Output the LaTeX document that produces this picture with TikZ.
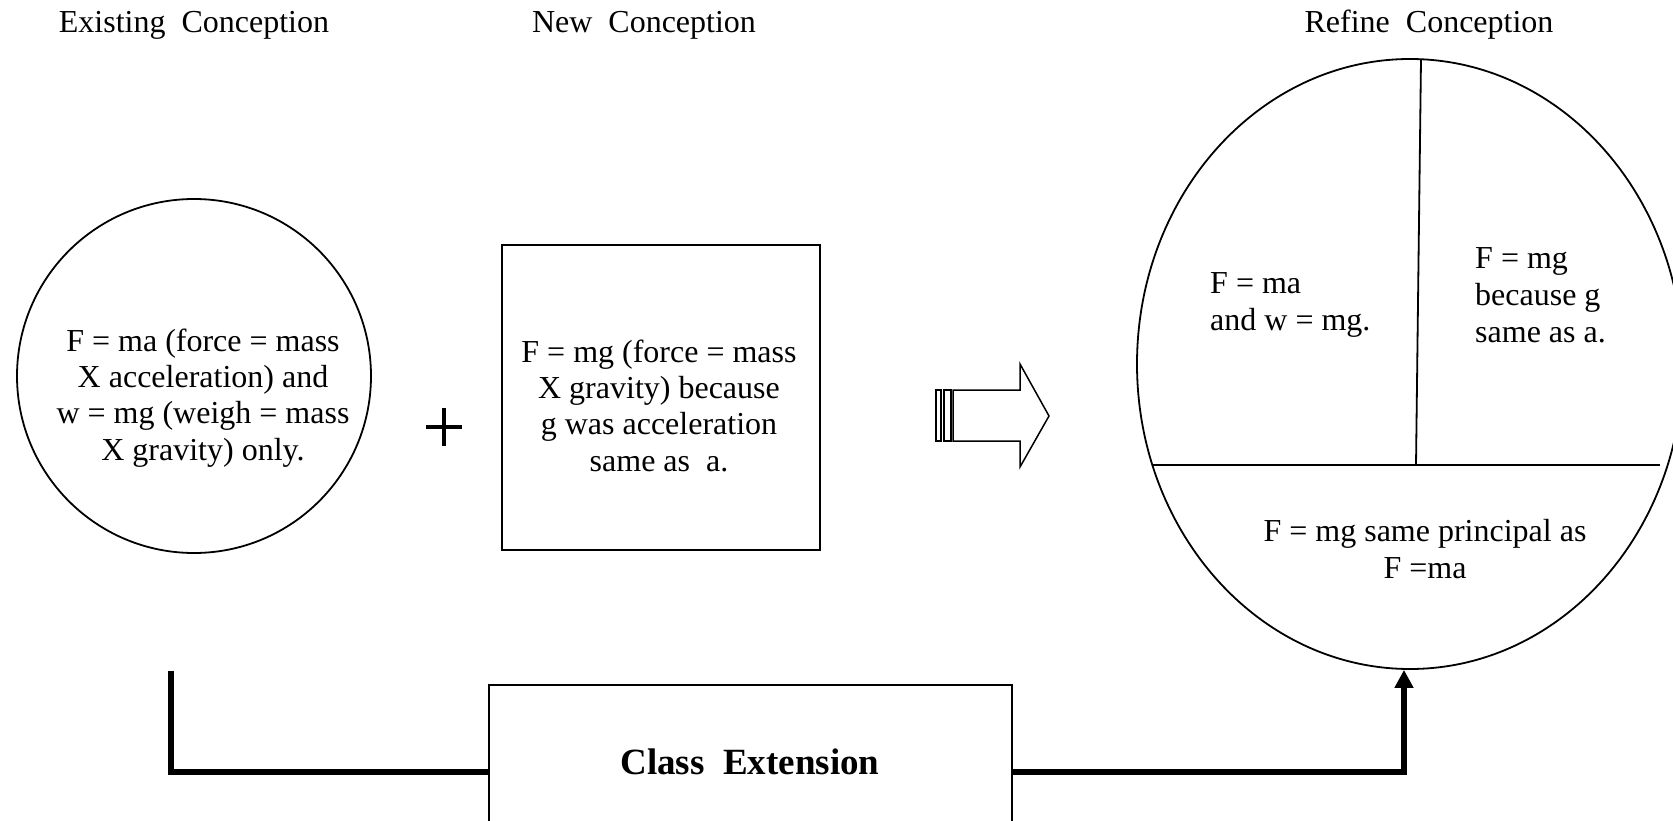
\documentclass[tikz,border=0pt]{standalone}
\usepackage{fontspec}
\setmainfont{Liberation Serif}
\usetikzlibrary{arrows.meta,shapes.geometric}
\begin{document}
\begin{tikzpicture}[x=1pt,y=-1pt,
  txt/.style={font=\fontsize{32}{36.3}\selectfont, inner sep=0pt, align=center},
  ltxt/.style={font=\fontsize{32}{36.7}\selectfont, inner sep=0pt, align=left},
  outl/.style={draw, line width=1.8pt},
  conn/.style={line width=6pt}
]
\clip (0,0) rectangle (1673,821);
% titles
\node[txt, anchor=base] (t1) at (194,33) {Existing\ \ Conception};
\node[txt, anchor=base] (t2) at (644,33) {New\ \ Conception};
\node[txt, anchor=base] (t3) at (1429,33) {Refine\ \ Conception};
% existing conception circle
\node[outl, circle, minimum size=354pt, inner sep=0pt] (exist) at (194,376) {};
\node[txt, anchor=base] (existtxt) at (203,460) {F = ma (force = mass\\X acceleration) and\\w = mg (weigh = mass\\X gravity) only.};
% plus
\draw[line width=4pt] (426,427) -- (462,427);
\draw[line width=4pt] (444,408) -- (444,446);
% new conception square
\node[outl, rectangle, minimum width=318pt, minimum height=305pt, inner sep=0pt, anchor=north west] (newc) at (501,244) {};
\node[txt, anchor=base] (newtxt) at (659,471) {F = mg (force = mass\\X gravity) because\\g was acceleration\\same as\ \ a.};
% striped block arrow
\draw[line width=1.5pt] (936,390) rectangle (941,441);
\draw[line width=1.5pt] (944,390) rectangle (951,441);
\draw[line width=1.5pt, line join=miter] (953,390) -- (1020,390) -- (1020,364) -- (1049,416) -- (1020,467) -- (1020,441) -- (953,441) -- cycle;
% refine conception ellipse
\node[outl, ellipse, minimum width=546pt, minimum height=610pt, inner sep=0pt] (refine) at (1410,364) {};
\draw[line width=1.8pt] (1421,59) -- (1416,465);
\draw[line width=1.8pt] (1152,465) -- (1660,465);
\node[ltxt, anchor=base west] (r1) at (1210,330) {F = ma\\and w = mg.};
\node[ltxt, anchor=base west] (r2) at (1475,342) {F = mg\\because g\\same as a.};
\node[txt, anchor=base] (r3) at (1425,578) {F = mg same principal as\\F =ma};
% class extension
\node[outl, rectangle, minimum width=523pt, minimum height=200pt, inner sep=0pt, anchor=north west] (cls) at (488,684) {};
\node[font=\fontsize{37}{41}\selectfont\bfseries, inner sep=0pt, anchor=base] (clstxt) at (750,774) {Class\ \ Extension};
% connectors
\coordinate (lt) at (171,671);
\coordinate (rb) at (1404,772);
\draw[conn, line join=miter] (lt) |- (cls.west |- rb);
\draw[conn, line join=miter, -{Triangle[width=18pt,length=18pt]}] (cls.east |- rb) -| (refine.south -| rb);
\end{tikzpicture}
\end{document}
